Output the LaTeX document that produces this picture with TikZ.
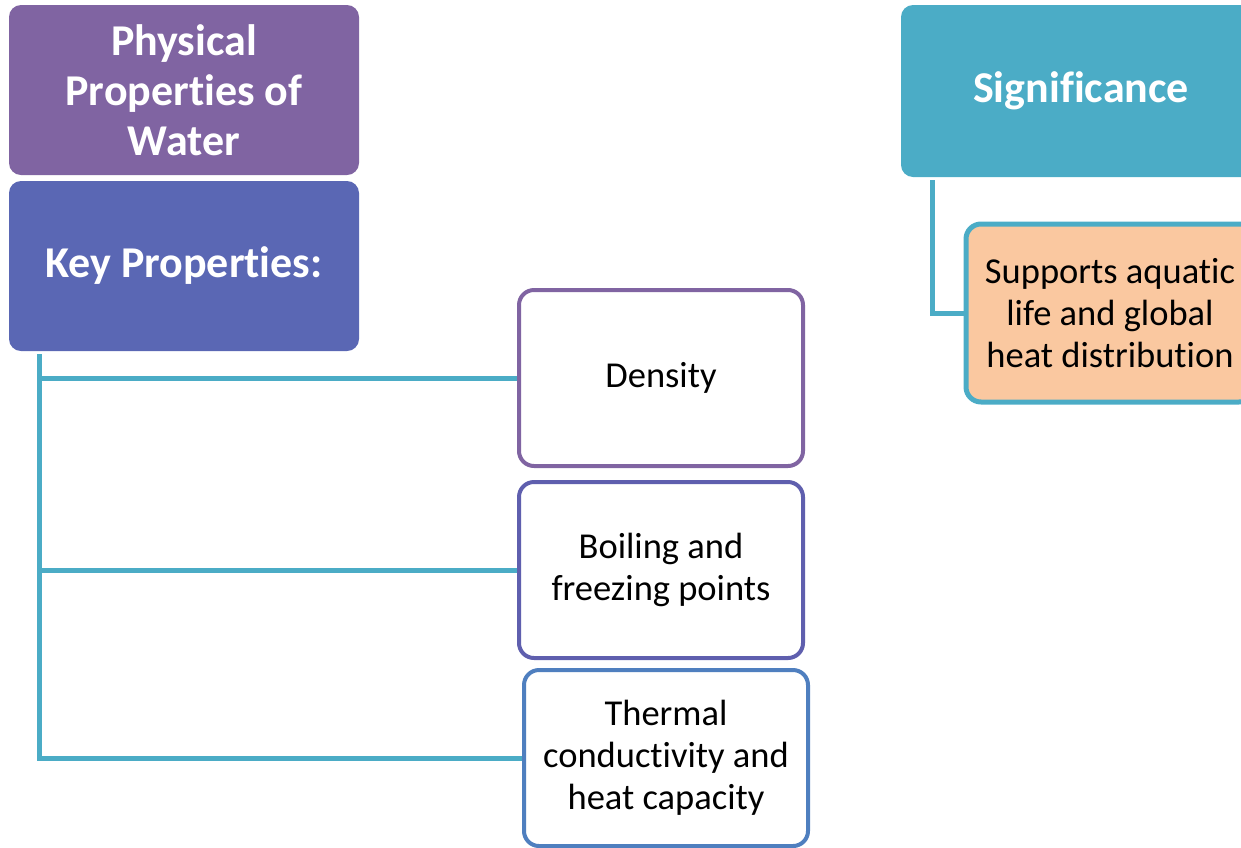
\documentclass[tikz,border=0pt]{standalone}
\usepackage{fontspec}
\setmainfont{Carlito}[Ligatures=NoCommon]
\definecolor{cpurple}{HTML}{8064A2}
\definecolor{cindigo}{HTML}{5A67B4}
\definecolor{cteal}{HTML}{4BACC6}
\definecolor{cviolet}{HTML}{5F5FAE}
\definecolor{cblue}{HTML}{4F7FBF}
\definecolor{cpeach}{HTML}{FAC8A0}
\begin{document}
\begin{tikzpicture}[x=1pt,y=-1pt,
  titlebox/.style={fill=#1,draw=none,rounded corners=12pt,text=white,align=center,
    font=\fontsize{44}{50}\selectfont\bfseries,minimum width=350pt,inner sep=0pt},
  childbox/.style={draw=#1,line width=4pt,fill=white,rounded corners=15pt,align=center,
    font=\fontsize{36.5}{42}\selectfont,minimum width=284pt,minimum height=176pt,inner sep=0pt},
  link/.style={draw=cteal,line width=5pt}]
\useasboundingbox (0,0) rectangle (1241,847);
\clip (0,0) rectangle (1241,847);
\node[titlebox=cpurple,minimum height=170pt] (phys) at (184,90) {Physical\\Properties of\\Water};
\node[titlebox=cindigo,minimum height=170pt] (kp) at (184,266) {Key Properties:};
\node[titlebox=cteal,minimum width=360pt,minimum height=172pt] (sig) at (1081,91) {Significance};
\coordinate (t) at ([xshift=31pt,yshift=-3pt]kp.south west);
\coordinate (s) at ([xshift=32pt,yshift=-3pt]sig.south west);
\node[childbox=cpurple] (dens) at (661,378) {Density};
\node[childbox=cviolet] (boil) at (661,570) {Boiling and\\freezing points};
\node[childbox=cblue] (therm) at (666,758) {Thermal\\conductivity and\\heat capacity};
\node[childbox=cteal,line width=5pt,fill=cpeach,minimum width=288pt,minimum height=178pt] (sup) at (1110,313) {Supports aquatic\\life and global\\heat distribution};
\path[link] (t) |- (dens.west);
\path[link] (t) |- (boil.west);
\path[link] (t) |- (therm.west);
\path[link] (s) |- (sup.west);
\end{tikzpicture}
\end{document}
